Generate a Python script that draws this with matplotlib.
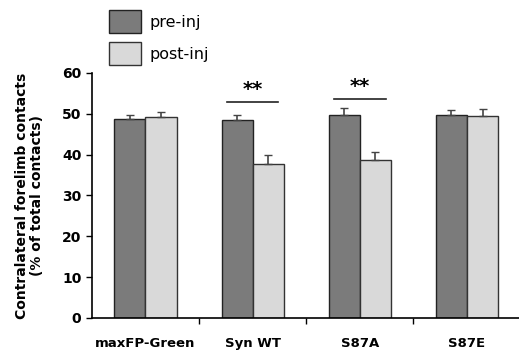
import numpy as np
import matplotlib.pyplot as plt

groups = ['maxFP-Green', 'Syn WT', 'S87A', 'S87E']
pre_inj = [48.7, 48.4, 49.8, 49.8]
pre_err = [0.9, 1.3, 1.6, 1.2]
post_inj = [49.1, 37.7, 38.7, 49.4]
post_err = [1.4, 2.1, 2.0, 1.7]
sig_groups = [1, 2]
sig_heights = [53.0, 53.7]

plt.rcParams['font.family'] = ['DejaVu Sans']

fig = plt.figure(figsize=(5.19, 3.56), dpi=100)
ax = fig.add_axes([0.177, 0.107, 0.826, 0.688])

x = np.arange(len(groups))
w = 0.29
ax.bar(x - w / 2, pre_inj, w, yerr=[np.zeros(4), pre_err], color='#7b7b7b',
       edgecolor='#222222', linewidth=1.0, capsize=3, error_kw={'elinewidth': 1.2, 'ecolor': '#444444'},
       label='pre-inj')
ax.bar(x + w / 2, post_inj, w, yerr=[np.zeros(4), post_err], color='#d9d9d9',
       edgecolor='#333333', linewidth=1.0, capsize=3, error_kw={'elinewidth': 1.2, 'ecolor': '#444444'},
       label='post-inj')

# significance markers
for g, h in zip(sig_groups, sig_heights):
    ax.plot([g - 0.24, g + 0.24], [h, h], color='#222222', lw=1.2, clip_on=False)
    ax.text(g, h + 0.6, '**', ha='center', va='bottom', fontsize=14, fontweight='bold')

ax.set_xlim(-0.5, len(groups) - 0.5)
ax.set_ylim(0, 60)
ax.set_yticks(range(0, 61, 10))
ax.set_yticklabels([str(v) for v in range(0, 61, 10)], fontsize=10, fontweight='bold')
ax.set_xticks(x + 0.5, minor=False)
ax.set_xticklabels([])
ax.set_xticks(x, minor=True)
ax.set_xticklabels(groups, minor=True, fontsize=9.5, fontweight='bold')
ax.tick_params(axis='x', which='minor', length=0, pad=14)
ax.tick_params(axis='x', which='major', length=4, direction='out', width=1)
ax.tick_params(axis='y', length=4, width=1)

for s in ['top', 'right']:
    ax.spines[s].set_visible(False)
ax.spines['left'].set_linewidth(1.2)
ax.spines['bottom'].set_linewidth(1.2)

ax.set_ylabel('Contralateral forelimb contacts\n(% of total contacts)', fontsize=10,
              fontweight='bold', labelpad=13, linespacing=1.1)

fig.legend(*ax.get_legend_handles_labels(), loc='upper left', bbox_to_anchor=(109 / 519, 1 - 10 / 356),
           frameon=False, fontsize=11.5, handlelength=2.0, handleheight=1.84, labelspacing=0.56,
           handletextpad=0.55, borderpad=0, borderaxespad=0)

fig.savefig('out.png', dpi=100)
